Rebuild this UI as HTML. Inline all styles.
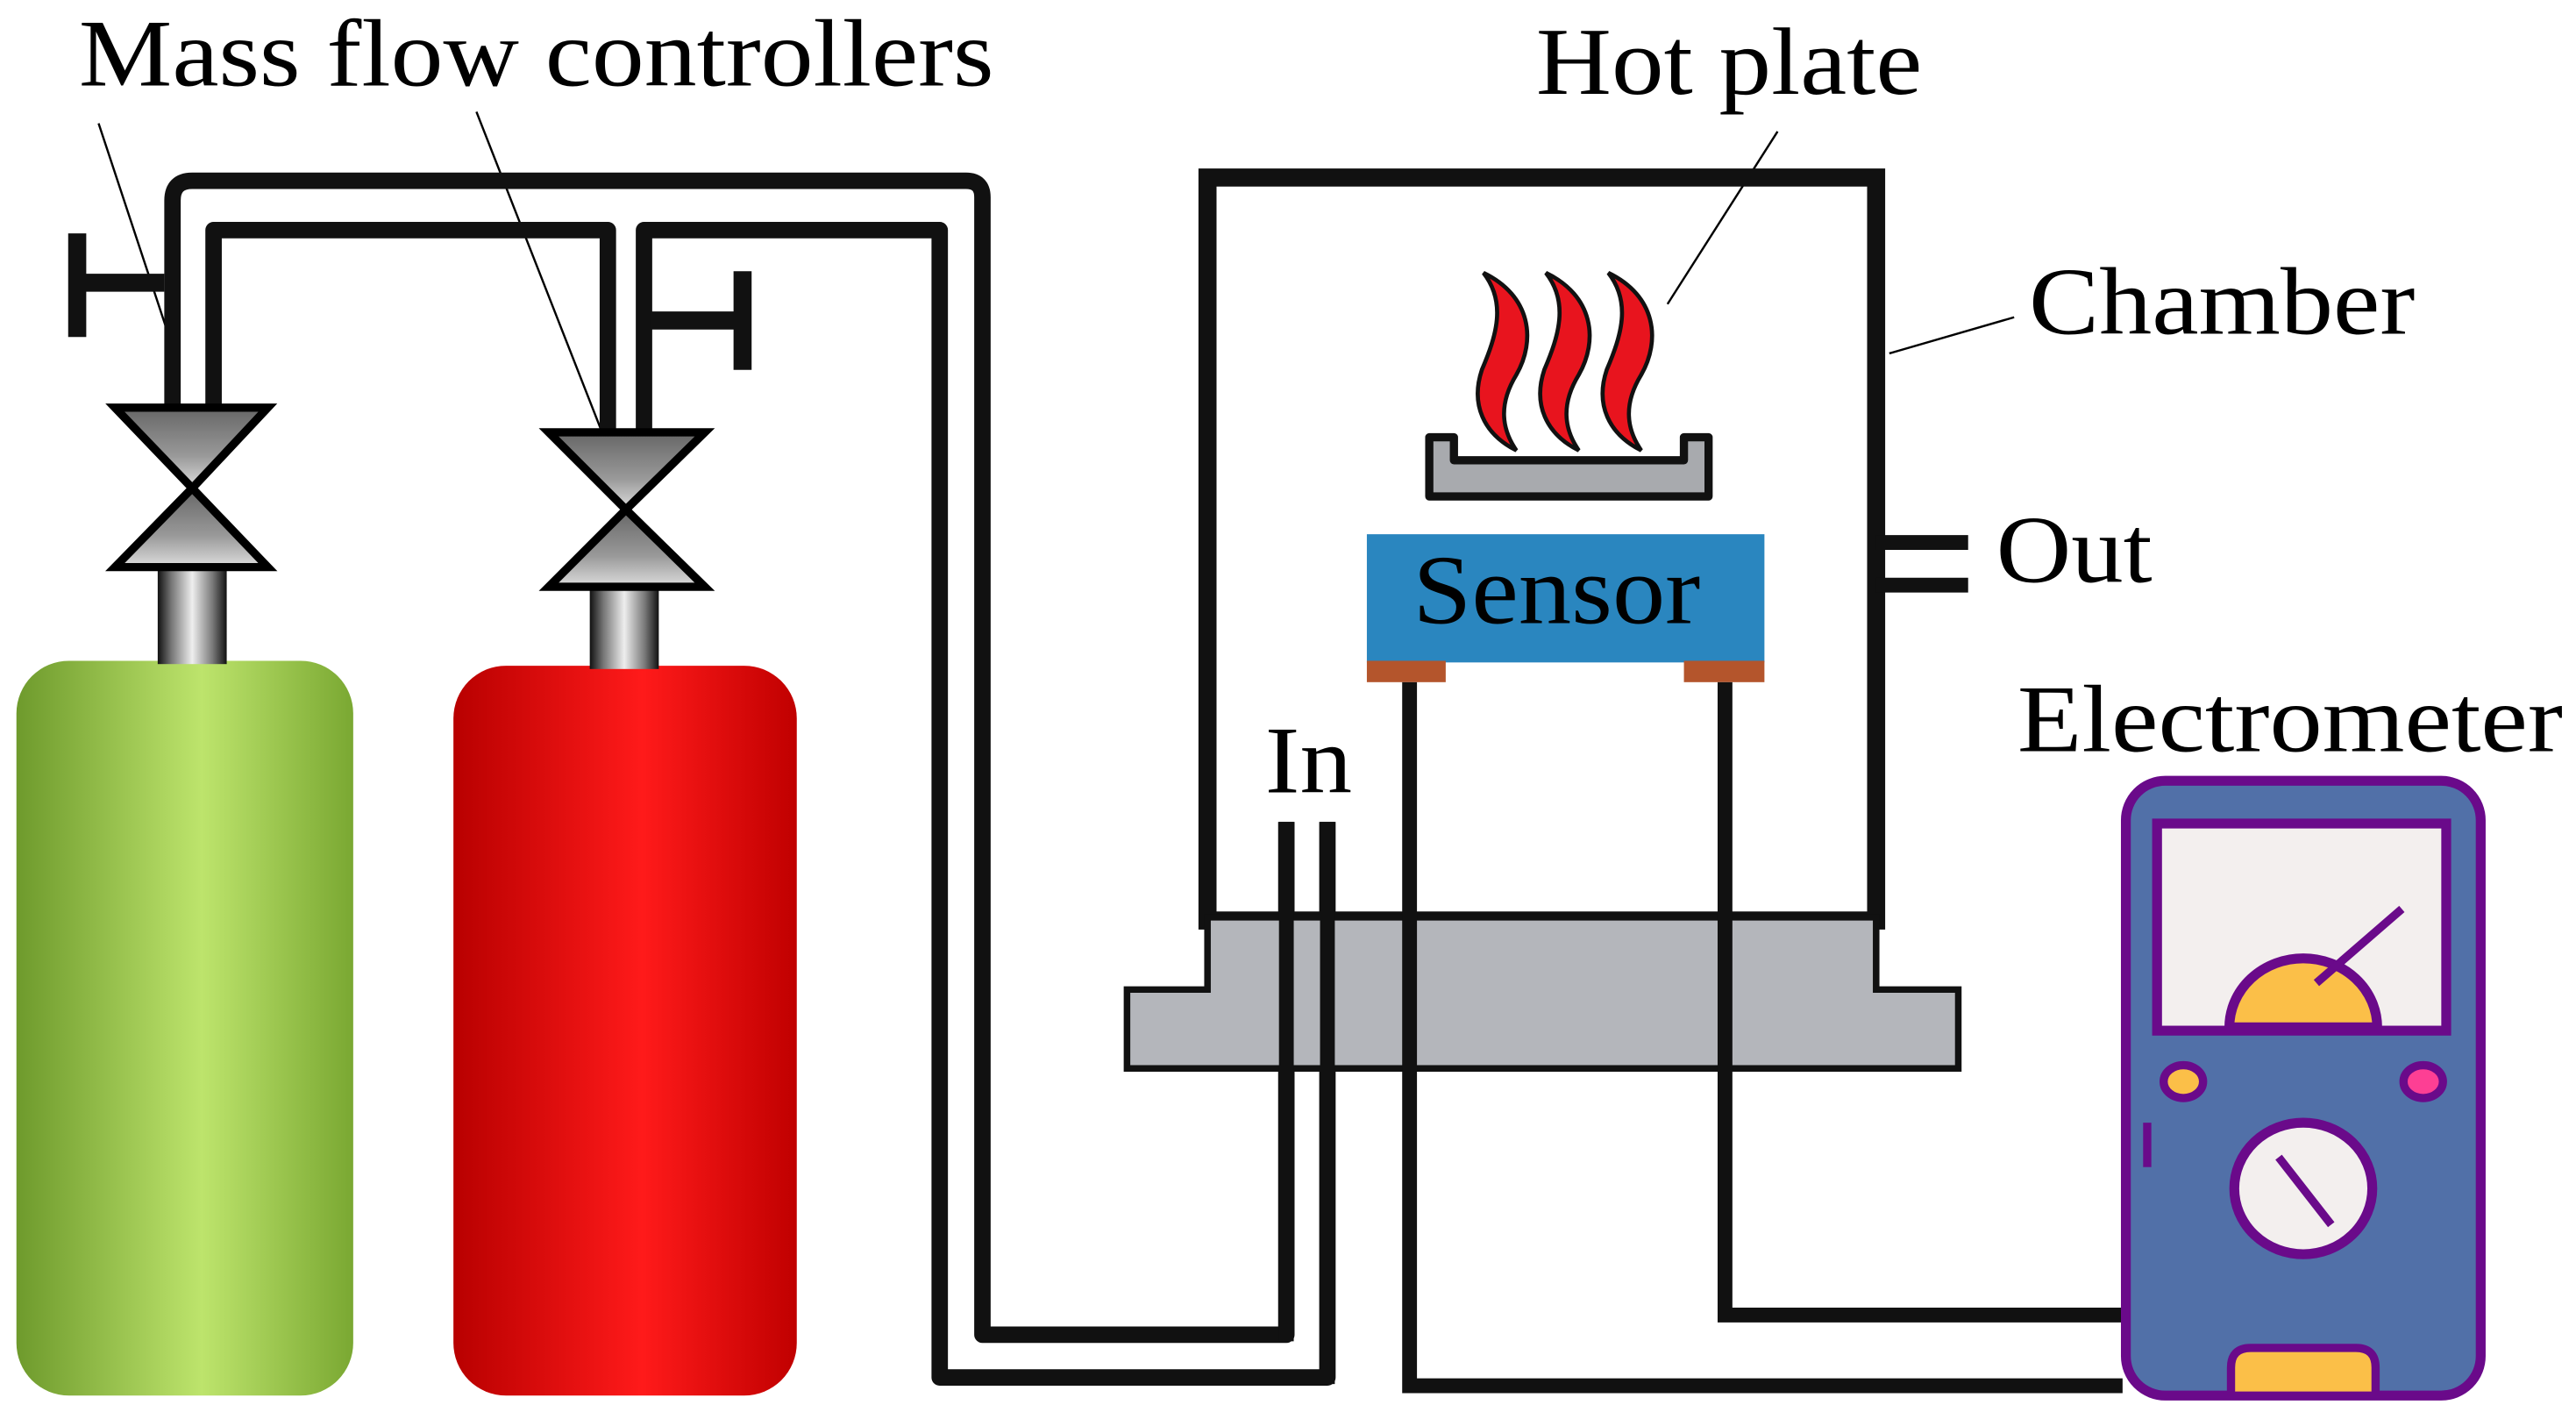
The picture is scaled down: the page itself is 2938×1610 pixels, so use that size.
<!DOCTYPE html>
<html><head><meta charset="utf-8"><style>
html,body{margin:0;padding:0;background:#fff;}
svg{display:block;}
text{font-family:"Liberation Serif",serif;fill:#000;}
</style></head><body>
<svg width="2938" height="1610" viewBox="0 0 1568 859" preserveAspectRatio="none" xmlns="http://www.w3.org/2000/svg">
<defs>
<linearGradient id="green" x1="0" x2="1" y1="0" y2="0">
<stop offset="0" stop-color="#6e9a2c"/><stop offset="0.55" stop-color="#bde46c"/><stop offset="1" stop-color="#7aa832"/>
</linearGradient>
<linearGradient id="red" x1="0" x2="1" y1="0" y2="0">
<stop offset="0" stop-color="#b80000"/><stop offset="0.55" stop-color="#ff1a1a"/><stop offset="1" stop-color="#c00000"/>
</linearGradient>
<linearGradient id="neck" x1="0" x2="1" y1="0" y2="0">
<stop offset="0" stop-color="#111"/><stop offset="0.2" stop-color="#777"/><stop offset="0.5" stop-color="#eee"/><stop offset="0.8" stop-color="#777"/><stop offset="1" stop-color="#111"/>
</linearGradient>
<linearGradient id="vgray" x1="0" x2="0" y1="0" y2="1">
<stop offset="0" stop-color="#666"/><stop offset="0.6" stop-color="#999"/><stop offset="1" stop-color="#ddd"/>
</linearGradient>
</defs>

<!-- Labels -->
<text x="48" y="52" font-size="58" textLength="557" lengthAdjust="spacingAndGlyphs">Mass flow controllers</text>
<text x="935" y="57" font-size="58" textLength="235" lengthAdjust="spacingAndGlyphs">Hot plate</text>
<text x="1235" y="203" font-size="58" textLength="235" lengthAdjust="spacingAndGlyphs">Chamber</text>
<text x="1215" y="354" font-size="58" textLength="95" lengthAdjust="spacingAndGlyphs">Out</text>
<text x="1228" y="457" font-size="58" textLength="332" lengthAdjust="spacingAndGlyphs">Electrometer</text>
<text x="770" y="482" font-size="58" textLength="53" lengthAdjust="spacingAndGlyphs">In</text>
<text x="62" y="653" font-size="68" textLength="98" lengthAdjust="spacingAndGlyphs">Air</text>
<text x="310" y="653" font-size="68" textLength="140" lengthAdjust="spacingAndGlyphs">NO2</text>

<!-- leader lines -->
<g stroke="#000" stroke-width="1.3" fill="none">
<line x1="60" y1="75" x2="103" y2="205"/>
<line x1="290" y1="68" x2="370" y2="272"/>
<line x1="1082" y1="80" x2="1015" y2="185"/>
<line x1="1226" y1="193" x2="1150" y2="215"/>
</g>

<!-- tanks -->
<rect x="10" y="402" width="205" height="447" rx="32" fill="url(#green)"/>
<rect x="276" y="405" width="209" height="444" rx="32" fill="url(#red)"/>

<!-- necks -->
<rect x="96" y="342" width="42" height="62" fill="url(#neck)"/>
<rect x="359" y="355" width="42" height="52" fill="url(#neck)"/>

<!-- pipes -->
<g stroke="#111" stroke-width="10" fill="none" stroke-linejoin="round">
<path d="M105,248 V122 Q105,110 117,110 H588 Q598,110 598,120 V812 H783 V500"/>
<path d="M130,248 V140 H370 V265"/>
<path d="M392,265 V140 H572 V838 H808 V500"/>
<path d="M47,142 V205 M47,172 H100" stroke-width="11"/>
<path d="M452,165 V225 M452,195 H396" stroke-width="11"/>
</g>

<!-- valves -->
<g stroke="#000" stroke-width="5" fill="url(#vgray)">
<polygon points="70,248 163,248 117,297"/>
<polygon points="70,345 163,345 117,297"/>
<polygon points="334,263 429,263 381,310"/>
<polygon points="334,357 429,357 381,310"/>
</g>

<!-- chamber -->
<rect x="735" y="108" width="407" height="452" fill="none" stroke="#111" stroke-width="11"/>
<path d="M735,558 H1142 V602 H1192 V650 H686 V602 H735 Z" fill="#b4b6bb" stroke="#111" stroke-width="4"/>
<g stroke="#111" stroke-width="9">
<line x1="783" y1="500" x2="783" y2="816"/>
<line x1="808" y1="500" x2="808" y2="842"/>
</g>
<g stroke="#111" stroke-width="9">
<line x1="1142" y1="330" x2="1198" y2="330"/>
<line x1="1142" y1="356" x2="1198" y2="356"/>
</g>

<!-- hot plate -->
<path d="M870,266 h15 v14 h140 v-14 h15 v36 h-170 Z" fill="#a8aaae" stroke="#111" stroke-width="5" stroke-linejoin="round"/>
<g fill="#e8141e" stroke="#111" stroke-width="2.5">
<path d="M903,166 C932,180 935,207 923,228 C912,246 914,261 923,274 C903,264 895,246 902,225 C911,204 917,184 903,166 Z"/>
<path d="M941,166 C970,180 973,207 961,228 C950,246 952,261 961,274 C941,264 933,246 940,225 C949,204 955,184 941,166 Z"/>
<path d="M979,166 C1008,180 1011,207 999,228 C988,246 990,261 999,274 C979,264 971,246 978,225 C987,204 993,184 979,166 Z"/>
</g>

<!-- sensor -->
<rect x="832" y="325" width="242" height="78" fill="#2a86bf"/>
<rect x="832" y="402" width="48" height="13" fill="#b4552c"/>
<rect x="1025" y="402" width="49" height="13" fill="#b4552c"/>
<text x="860" y="379" font-size="60" textLength="175" lengthAdjust="spacingAndGlyphs">Sensor</text>

<!-- wires -->
<g stroke="#111" stroke-width="9" fill="none">
<path d="M858,415 V843 H1292"/>
<path d="M1050,415 V800 H1292"/>
</g>

<!-- electrometer -->
<rect x="1294" y="475" width="216" height="374" rx="24" fill="#5170a8" stroke="#6a0a8a" stroke-width="6"/>
<rect x="1313" y="501" width="176" height="126" fill="#f3efee" stroke="#6a0a8a" stroke-width="6"/>
<path d="M1357,625 A45,42 0 0 1 1447,625 Z" fill="#fbbf48" stroke="#6a0a8a" stroke-width="6"/>
<line x1="1410" y1="598" x2="1462" y2="553" stroke="#6a0a8a" stroke-width="5"/>
<ellipse cx="1329" cy="658" rx="12" ry="10" fill="#fbbf48" stroke="#6a0a8a" stroke-width="5"/>
<ellipse cx="1475" cy="658" rx="12" ry="10" fill="#fd3f94" stroke="#6a0a8a" stroke-width="5"/>
<ellipse cx="1402" cy="723" rx="42" ry="40" fill="#f3efee" stroke="#6a0a8a" stroke-width="6"/>
<line x1="1387" y1="704" x2="1419" y2="745" stroke="#6a0a8a" stroke-width="5"/>
<line x1="1307" y1="683" x2="1307" y2="710" stroke="#6a0a8a" stroke-width="5"/>
<path d="M1358,849 V832 Q1358,820 1370,820 H1434 Q1446,820 1446,832 V849 Z" fill="#fbbf48" stroke="#6a0a8a" stroke-width="5"/>
</svg>
</body></html>
